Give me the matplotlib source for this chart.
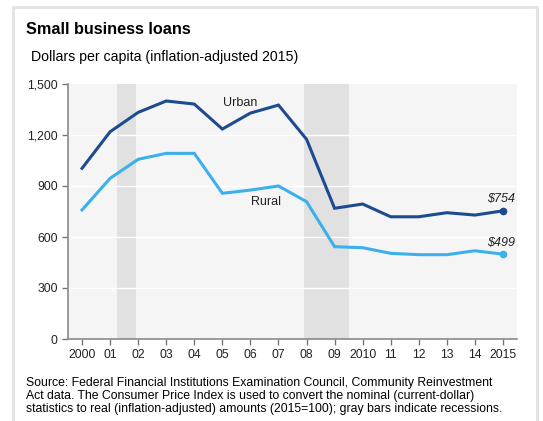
import matplotlib.pyplot as plt
from matplotlib.patches import Rectangle

plt.rcParams['font.family'] = ['Liberation Sans', 'DejaVu Sans']

years = list(range(2000, 2016))
urban = [1004, 1219, 1333, 1400, 1382, 1235, 1329, 1376, 1175,
         769, 794, 719, 719, 743, 729, 754]
rural = [759, 945, 1057, 1092, 1092, 857, 876, 900, 808,
         543, 537, 504, 496, 496, 519, 499]
year_labels = ['2000', '01', '02', '03', '04', '05', '06', '07', '08',
               '09', '2010', '11', '12', '13', '14', '2015']
recessions = [(2001.25, 2001.92), (2007.92, 2009.5)]
y_ticks = [0, 300, 600, 900, 1200, 1500]

dark_blue = '#1d4b8f'
light_blue = '#3cb0ec'

fig = plt.figure(figsize=(5.43, 4.21), dpi=100)

# panel frame
fig.patches.append(Rectangle((13 / 543, -0.05), 524 / 543, 1 - 7 / 421 + 0.05,
                             transform=fig.transFigure, fill=False,
                             edgecolor='#e4e4e4', linewidth=2.2))

ax = fig.add_axes([68 / 543, 1 - 339 / 421, 449 / 543, 255 / 421])
ax.set_facecolor('#f5f5f5')

for start, end in recessions:
    ax.axvspan(start, end, color='#e1e1e1', lw=0, zorder=0.5)

for v in y_ticks[1:-1]:
    ax.axhline(v, color='white', lw=1, zorder=1)

ax.plot(years, urban, color=dark_blue, lw=2.2, zorder=3, solid_joinstyle='miter')
ax.plot(years, rural, color=light_blue, lw=2.2, zorder=3, solid_joinstyle='miter')
ax.plot(years[-1], urban[-1], 'o', color=dark_blue, ms=4.5, zorder=4)
ax.plot(years[-1], rural[-1], 'o', color=light_blue, ms=4.5, zorder=4)

ax.text(2005.63, 1388, 'Urban', ha='center', va='center', fontsize=9, color='#222222')
ax.text(2006.55, 808, 'Rural', ha='center', va='center', fontsize=9, color='#222222')
ax.text(2014.93, 822, '$%d' % urban[-1], ha='center', va='center',
        fontsize=9, style='italic', color='#222222')
ax.text(2014.93, 563, '$%d' % rural[-1], ha='center', va='center',
        fontsize=9, style='italic', color='#222222')

ax.set_xlim(1999.5, 2015.5)
ax.set_ylim(0, 1500)
ax.set_xticks(years)
ax.set_xticklabels(year_labels)
ax.set_yticks(y_ticks)
ax.set_yticklabels(['{:,}'.format(v) for v in y_ticks])
ax.tick_params(axis='both', labelsize=8.7, colors='#222222', length=4,
               width=1, direction='out')
ax.tick_params(axis='both', color='#777777')

for side in ['top', 'right']:
    ax.spines[side].set_visible(False)
for side in ['left', 'bottom']:
    ax.spines[side].set_color('#8a8a8a')
    ax.spines[side].set_linewidth(1.2)

fig.text(26 / 543, 1 - 30 / 421, 'Small business loans', fontsize=11.7,
         fontweight='bold', va='center', ha='left')
fig.text(31 / 543, 1 - 57 / 421, 'Dollars per capita (inflation-adjusted 2015)',
         fontsize=10.2, va='center', ha='left')
fig.text(26 / 543, 1 - 396 / 421,
         'Source: Federal Financial Institutions Examination Council, Community Reinvestment\n'
         'Act data. The Consumer Price Index is used to convert the nominal (current-dollar)\n'
         'statistics to real (inflation-adjusted) amounts (2015=100); gray bars indicate recessions.',
         fontsize=8.8, va='center', ha='left', linespacing=1.12)

fig.savefig('out.png', dpi=100)
